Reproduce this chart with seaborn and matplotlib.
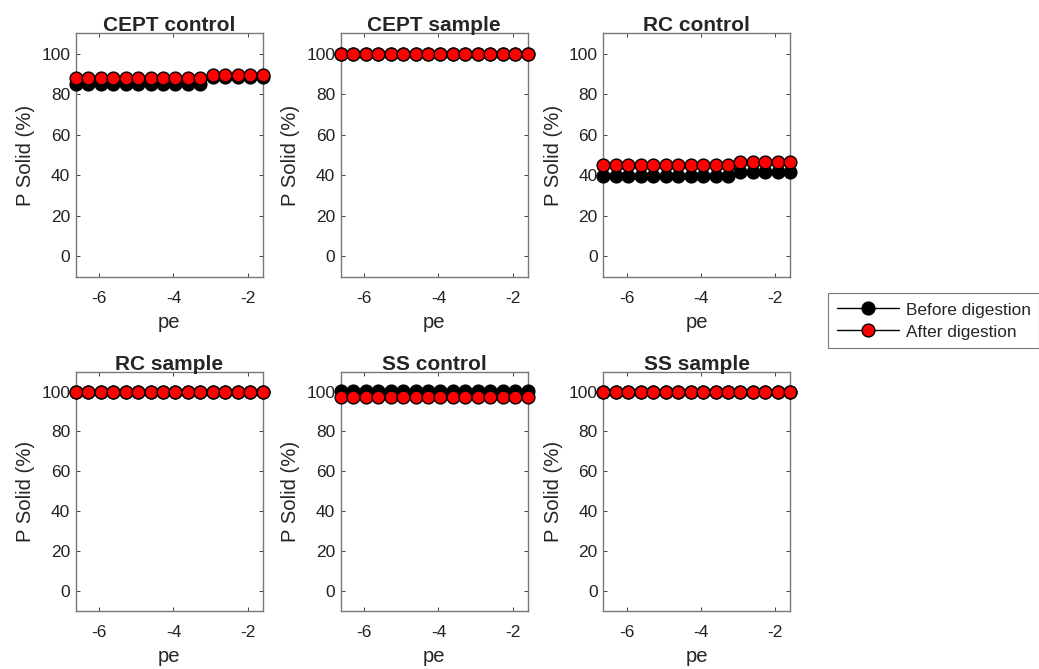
import numpy as np
import pandas as pd
import matplotlib
matplotlib.use("Agg")
import matplotlib.pyplot as plt
import seaborn as sns

# pe values shared by every panel
pe = [-6.64, -6.30, -5.97, -5.63, -5.29, -4.96, -4.62, -4.28,
      -3.95, -3.61, -3.27, -2.94, -2.60, -2.26, -1.93, -1.59]

panels = ["CEPT control", "CEPT sample", "RC control",
          "RC sample", "SS control", "SS sample"]

# P Solid (%) before digestion
before_cept_control = [85.1, 85.1, 85.1, 85.1, 85.1, 85.1, 85.1, 85.1, 85.1, 85.1, 85.1,
                       88.5, 88.5, 88.5, 88.5, 88.5]
before_cept_sample = [100] * 16
before_rc_control = [39.7, 39.7, 39.7, 39.7, 39.7, 39.7, 39.7, 39.7, 39.7, 39.7, 39.7,
                     41.8, 41.8, 41.8, 41.8, 41.8]
before_rc_sample = [100] * 16
before_ss_control = [100.3] * 16
before_ss_sample = [100] * 16

# P Solid (%) after digestion
after_cept_control = [88.0, 88.0, 88.0, 88.0, 88.0, 88.0, 88.0, 88.0, 88.0, 88.0, 88.0,
                      89.6, 89.6, 89.6, 89.6, 89.6]
after_cept_sample = [100] * 16
after_rc_control = [45.1, 45.1, 45.1, 45.1, 45.1, 45.1, 45.1, 45.1, 45.1, 45.1, 45.1,
                    46.6, 46.6, 46.6, 46.6, 46.6]
after_rc_sample = [100] * 16
after_ss_control = [97.1] * 16
after_ss_sample = [100] * 16

before = [before_cept_control, before_cept_sample, before_rc_control,
          before_rc_sample, before_ss_control, before_ss_sample]
after = [after_cept_control, after_cept_sample, after_rc_control,
         after_rc_sample, after_ss_control, after_ss_sample]

yticks = [0, 20, 40, 60, 80, 100]
xticks = [-6, -4, -2]

sns.set_style("white")
plt.rcParams["font.family"] = ["Liberation Sans", "DejaVu Sans"]
axis_gray = "#262626"

W, H = 1039, 669
fig = plt.figure(figsize=(W / 100, H / 100), dpi=100)

col_left = [75.7, 340.7, 603.3]
col_width = 187.0
row_top = [33.3, 371.7]
row_bottom = [276.7, 610.7]

handles = []
for i, name in enumerate(panels):
    r, c = divmod(i, 3)
    ax_h = row_bottom[r] - row_top[r]
    ax = fig.add_axes([col_left[c] / W, 1 - row_bottom[r] / H,
                       col_width / W, ax_h / H])
    df = pd.DataFrame({"pe": pe, "before": before[i], "after": after[i]})
    sns.lineplot(data=df, x="pe", y="before", ax=ax, color="black", lw=1,
                 marker="o", markersize=9.2, markerfacecolor="black",
                 markeredgecolor="black", markeredgewidth=1, clip_on=False,
                 zorder=3)
    sns.lineplot(data=df, x="pe", y="after", ax=ax, color="black", lw=1,
                 marker="o", markersize=9.2, markerfacecolor="red",
                 markeredgecolor="black", markeredgewidth=1, clip_on=False,
                 zorder=4)
    if i == 0:
        handles = ax.get_lines()[:2]
    ax.set_xlim(pe[0], pe[-1])
    ax.set_ylim(-10, 110)
    ax.set_xticks(xticks)
    ax.set_yticks(yticks)
    ax.set_xticklabels([str(t) for t in xticks])
    ax.tick_params(direction="in", length=3, width=0.6, top=True, right=True,
                   bottom=True, left=True, labelsize=12.5, colors=axis_gray,
                   labelcolor="#222222")
    ax.tick_params(axis="x", pad=10.5)
    ax.tick_params(axis="y", pad=4)
    for s in ax.spines.values():
        s.set_visible(True)
        s.set_color("#777777")
        s.set_linewidth(1.0)
    ax.set_title(name, fontsize=15, fontweight="bold", pad=1.5)
    ax.set_xlabel("pe", fontsize=14.6, labelpad=5)
    ax.set_ylabel("P Solid (%)", fontsize=14.6)
    ax.yaxis.set_label_coords((35 - col_left[0]) / col_width, 0.5)

leg = fig.legend(handles, ["Before digestion", "After digestion"],
                 loc="upper left", bbox_to_anchor=(828.3 / W, 1 - 292.5 / H),
                 fontsize=12.4, frameon=True, fancybox=False, handlelength=3.65,
                 handleheight=1.15, borderpad=0.48, labelspacing=0.25,
                 handletextpad=0.38, borderaxespad=0)
leg.get_frame().set_edgecolor("#555555")
leg.get_frame().set_linewidth(0.8)

fig.savefig("out.png", dpi=100)
